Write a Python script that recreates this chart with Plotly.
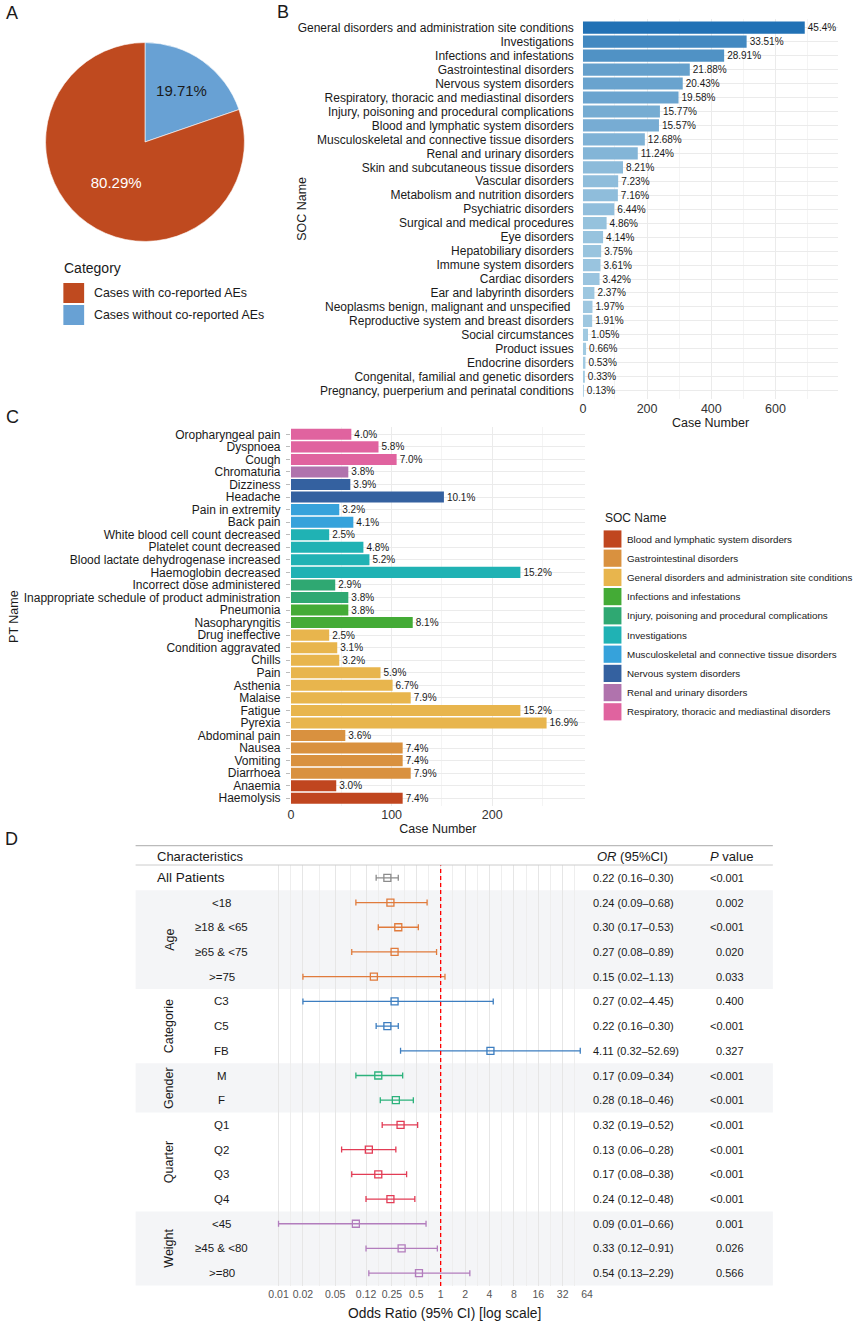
import math
import plotly.graph_objects as go

W, H = 858, 1322
def px(x): return x / W
def py(y): return 1 - y / H

FONT = "Liberation Sans, Arial, sans-serif"

# ---------------- Panel A data ----------------
pie_labels = ["Cases with co-reported AEs", "Cases without co-reported AEs"]
pie_values = [80.29, 19.71]
pie_colors = ["#BF4A1F", "#68A1D4"]
pie_text_colors = ["white", "#1a1a1a"]

# ---------------- Panel B data ----------------
soc_names = [
    "General disorders and administration site conditions", "Investigations",
    "Infections and infestations", "Gastrointestinal disorders", "Nervous system disorders",
    "Respiratory, thoracic and mediastinal disorders", "Injury, poisoning and procedural complications",
    "Blood and lymphatic system disorders", "Musculoskeletal and connective tissue disorders",
    "Renal and urinary disorders", "Skin and subcutaneous tissue disorders", "Vascular disorders",
    "Metabolism and nutrition disorders", "Psychiatric disorders", "Surgical and medical procedures",
    "Eye disorders", "Hepatobiliary disorders", "Immune system disorders", "Cardiac disorders",
    "Ear and labyrinth disorders", "Neoplasms benign, malignant and unspecified ",
    "Reproductive system and breast disorders", "Social circumstances", "Product issues",
    "Endocrine disorders", "Congenital, familial and genetic disorders",
    "Pregnancy, puerperium and perinatal conditions",
]
soc_counts = [691, 510, 440, 333, 311, 298, 240, 237, 193, 171, 125, 110, 109, 98, 74,
              63, 57, 55, 52, 36, 30, 29, 16, 10, 8, 5, 2]
soc_pct = ["45.4%", "33.51%", "28.91%", "21.88%", "20.43%", "19.58%", "15.77%", "15.57%",
           "12.68%", "11.24%", "8.21%", "7.23%", "7.16%", "6.44%", "4.86%", "4.14%", "3.75%",
           "3.61%", "3.42%", "2.37%", "1.97%", "1.91%", "1.05%", "0.66%", "0.53%", "0.33%", "0.13%"]
soc_ticks = [0, 200, 400, 600]

# ---------------- Panel C data ----------------
pt_names = [
    "Oropharyngeal pain", "Dyspnoea", "Cough", "Chromaturia", "Dizziness", "Headache",
    "Pain in extremity", "Back pain", "White blood cell count decreased", "Platelet count decreased",
    "Blood lactate dehydrogenase increased", "Haemoglobin decreased", "Incorrect dose administered",
    "Inappropriate schedule of product administration", "Pneumonia", "Nasopharyngitis",
    "Drug ineffective", "Condition aggravated", "Chills", "Pain", "Asthenia", "Malaise", "Fatigue",
    "Pyrexia", "Abdominal pain", "Nausea", "Vomiting", "Diarrhoea", "Anaemia", "Haemolysis",
]
pt_counts = [60, 87, 105, 57, 59, 152, 48, 62, 38, 72, 78, 228, 44, 57, 57, 121, 38, 46, 48,
             89, 101, 119, 228, 254, 54, 111, 111, 119, 45, 111]
pt_pct = ["4.0%", "5.8%", "7.0%", "3.8%", "3.9%", "10.1%", "3.2%", "4.1%", "2.5%", "4.8%",
          "5.2%", "15.2%", "2.9%", "3.8%", "3.8%", "8.1%", "2.5%", "3.1%", "3.2%", "5.9%",
          "6.7%", "7.9%", "15.2%", "16.9%", "3.6%", "7.4%", "7.4%", "7.9%", "3.0%", "7.4%"]
pt_soc = ["Respiratory, thoracic and mediastinal disorders"] * 3 + \
         ["Renal and urinary disorders"] + ["Nervous system disorders"] * 2 + \
         ["Musculoskeletal and connective tissue disorders"] * 2 + ["Investigations"] * 4 + \
         ["Injury, poisoning and procedural complications"] * 2 + ["Infections and infestations"] * 2 + \
         ["General disorders and administration site conditions"] * 8 + \
         ["Gastrointestinal disorders"] * 4 + ["Blood and lymphatic system disorders"] * 2
legend_soc = [
    "Blood and lymphatic system disorders", "Gastrointestinal disorders",
    "General disorders and administration site conditions", "Infections and infestations",
    "Injury, poisoning and procedural complications", "Investigations",
    "Musculoskeletal and connective tissue disorders", "Nervous system disorders",
    "Renal and urinary disorders", "Respiratory, thoracic and mediastinal disorders",
]
legend_colors = ["#C0461F", "#D9913F", "#E8B54D", "#44AB36", "#2FA872", "#20B2B4",
                 "#36A2DB", "#3461A0", "#B073AD", "#E0639F"]
pt_ticks = [0, 100, 200]

# ---------------- Panel D data ----------------
fp_group = ["All Patients", "Age", "Age", "Age", "Age", "Categorie", "Categorie", "Categorie",
            "Gender", "Gender", "Quarter", "Quarter", "Quarter", "Quarter", "Weight", "Weight", "Weight"]
fp_label = ["All Patients", "<18", "≥18 & <65", "≥65 & <75", ">=75", "C3", "C5", "FB", "M", "F",
            "Q1", "Q2", "Q3", "Q4", "<45", "≥45 & <80", ">=80"]
fp_or = [0.22, 0.24, 0.30, 0.27, 0.15, 0.27, 0.22, 4.11, 0.17, 0.28, 0.32, 0.13, 0.17, 0.24, 0.09, 0.33, 0.54]
fp_lo = [0.16, 0.09, 0.17, 0.08, 0.02, 0.02, 0.16, 0.32, 0.09, 0.18, 0.19, 0.06, 0.08, 0.12, 0.01, 0.12, 0.13]
fp_hi = [0.30, 0.68, 0.53, 0.89, 1.13, 4.45, 0.30, 52.69, 0.34, 0.46, 0.52, 0.28, 0.38, 0.48, 0.66, 0.91, 2.29]
fp_p = ["<0.001", "0.002", "<0.001", "0.020", "0.033", "0.400", "<0.001", "0.327", "<0.001",
        "<0.001", "<0.001", "<0.001", "<0.001", "<0.001", "0.001", "0.026", "0.566"]
group_names = ["All Patients", "Age", "Categorie", "Gender", "Quarter", "Weight"]
group_colors = ["#8C8C8C", "#E07B3C", "#3D7EC0", "#2CB27C", "#E23C55", "#B27DBD"]
shaded_groups = ["Age", "Gender", "Weight"]
fp_ticks = [0.01, 0.02, 0.05, 0.12, 0.25, 0.5, 1, 2, 4, 8, 16, 32, 64]
fp_ticktext = ["0.01", "0.02", "0.05", "0.12", "0.25", "0.5", "1", "2", "4", "8", "16", "32", "64"]

fig = go.Figure()

# ---------- A: pie (smaller slice drawn first, clockwise from 12 o'clock) ----------
fig.add_trace(go.Pie(
    labels=pie_labels[::-1], values=pie_values[::-1], sort=False, direction="clockwise", rotation=0,
    marker=dict(colors=pie_colors[::-1], line=dict(color="white", width=0.6)),
    texttemplate="%{percent:.2%}", textposition="inside", insidetextorientation="horizontal",
    textfont=dict(size=15, color=pie_text_colors[::-1], family=FONT),
    domain=dict(x=[px(43), px(244)], y=[py(243), py(41)]), showlegend=False, hoverinfo="label+percent",
))

# pie legend
fig.add_annotation(x=px(60), y=py(268), xref="paper", yref="paper", text="Category", showarrow=False,
                   xanchor="left", yanchor="middle", font=dict(size=14, color="#1a1a1a"))
for i, (lab, col) in enumerate(zip(pie_labels, pie_colors)):
    yc = 293 + i * 22
    fig.add_shape(type="rect", xref="paper", yref="paper", x0=px(61), x1=px(82),
                  y0=py(yc - 10), y1=py(yc + 10), fillcolor=col, line=dict(width=0))
    fig.add_annotation(x=px(90), y=py(yc), xref="paper", yref="paper", text=lab, showarrow=False,
                       xanchor="left", yanchor="middle", font=dict(size=12.4, color="#1a1a1a"))

# ---------- B: SOC bars ----------
fig.add_trace(go.Bar(
    x=soc_counts, y=soc_names, orientation="h", width=0.87,
    marker=dict(color=soc_counts, colorscale=[[0, "#A3CBE2"], [1, "#2171B5"]],
                cmin=min(soc_counts), cmax=max(soc_counts), line=dict(width=0)),
    text=soc_pct, textposition="outside", constraintext="none", cliponaxis=False,
    textfont=dict(size=10, color="#1a1a1a"), xaxis="x2", yaxis="y2", showlegend=False,
))

# ---------- C: PT bars ----------
for soc, col in zip(legend_soc, legend_colors):
    idx = [i for i, s in enumerate(pt_soc) if s == soc]
    fig.add_trace(go.Bar(
        x=[pt_counts[i] for i in idx], y=[pt_names[i] for i in idx], orientation="h", width=0.88,
        marker=dict(color=col, line=dict(width=0)), name=soc,
        text=[pt_pct[i] for i in idx], textposition="outside", constraintext="none", cliponaxis=False,
        textfont=dict(size=10, color="#1a1a1a"), xaxis="x3", yaxis="y3", showlegend=False,
    ))

# C legend
fig.add_annotation(x=px(606), y=py(518), xref="paper", yref="paper", text="SOC Name", showarrow=False,
                   xanchor="left", yanchor="middle", font=dict(size=12, color="#1a1a1a"))
for i, (lab, col) in enumerate(zip(legend_soc, legend_colors)):
    yc = 539 + i * 19.2
    fig.add_shape(type="rect", xref="paper", yref="paper", x0=px(607), x1=px(625),
                  y0=py(yc - 8.6), y1=py(yc + 8.6), fillcolor=col, line=dict(width=0))
    fig.add_annotation(x=px(629), y=py(yc), xref="paper", yref="paper", text=lab, showarrow=False,
                       xanchor="left", yanchor="middle", font=dict(size=9.8, color="#1a1a1a"))

# ---------- D: forest ----------
rows = list(range(len(fp_label)))
for g, col in zip(group_names, group_colors):
    idx = [i for i, gg in enumerate(fp_group) if gg == g]
    fig.add_trace(go.Scatter(
        x=[fp_or[i] for i in idx], y=[rows[i] for i in idx], mode="markers",
        marker=dict(symbol="square-open", size=7, color=col, line=dict(width=1.3, color=col)),
        error_x=dict(type="data", symmetric=False,
                     array=[fp_hi[i] - fp_or[i] for i in idx],
                     arrayminus=[fp_or[i] - fp_lo[i] for i in idx],
                     color=col, thickness=1.3, width=3),
        xaxis="x4", yaxis="y4", showlegend=False, name=g,
    ))

# shaded group bands
for g in shaded_groups:
    idx = [i for i, gg in enumerate(fp_group) if gg == g]
    fig.add_shape(type="rect", xref="paper", yref="y4", x0=px(134), x1=px(778),
                  y0=min(idx) - 0.5, y1=max(idx) + 0.5, fillcolor="#F4F5F7",
                  line=dict(width=0), layer="below")

# reference line at OR = 1
fig.add_shape(type="line", xref="x4", yref="y4 domain", x0=1, x1=1, y0=0, y1=1,
              line=dict(color="#FF0000", width=1.3, dash="4px,3px"))

# header
fig.add_shape(type="line", xref="paper", yref="paper", x0=px(134), x1=px(778), y0=py(845.7), y1=py(845.7),
              line=dict(color="#BBBBBB", width=1.2))
fig.add_shape(type="line", xref="paper", yref="paper", x0=px(134), x1=px(778), y0=py(865), y1=py(865),
              line=dict(color="#CCCCCC", width=1))
for txt, x in [("Characteristics", 154), ("<i>OR</i> (95%CI)", 598), ("<i>P</i> value", 712)]:
    fig.add_annotation(x=px(x), y=py(856), xref="paper", yref="paper", text=txt, showarrow=False,
                       xanchor="left", yanchor="middle", font=dict(size=13, color="#1a1a1a"))

# row texts
for i in rows:
    if fp_group[i] == fp_label[i]:
        fig.add_annotation(x=px(154), y=i, xref="paper", yref="y4", text=fp_label[i], showarrow=False,
                           xanchor="left", yanchor="middle", font=dict(size=13.5, color="#1a1a1a"))
    else:
        fig.add_annotation(x=px(221), y=i, xref="paper", yref="y4", text=fp_label[i], showarrow=False,
                           xanchor="center", yanchor="middle", font=dict(size=11.5, color="#1a1a1a"))
    fig.add_annotation(x=px(594), y=i, xref="paper", yref="y4",
                       text=f"{fp_or[i]:.2f} ({fp_lo[i]:.2f}–{fp_hi[i]:.2f})", showarrow=False,
                       xanchor="left", yanchor="middle", font=dict(size=11, color="#1a1a1a"))
    fig.add_annotation(x=px(751), y=i, xref="paper", yref="y4", text=fp_p[i], showarrow=False,
                       xanchor="right", yanchor="middle", font=dict(size=11, color="#1a1a1a"))

for g in group_names[1:]:
    idx = [i for i, gg in enumerate(fp_group) if gg == g]
    fig.add_annotation(x=px(168), y=sum(idx) / len(idx), xref="paper", yref="y4", text=g,
                       showarrow=False, textangle=-90, xanchor="center", yanchor="middle",
                       font=dict(size=12.5, color="#1a1a1a"))

fig.add_annotation(x=px(446), y=py(1313), xref="paper", yref="paper",
                   text="Odds Ratio (95% CI) [log scale]", showarrow=False,
                   xanchor="center", yanchor="middle", font=dict(size=13.8, color="#1a1a1a"))

# axis titles drawn as annotations
fig.add_annotation(x=px(302), y=py(209), xref="paper", yref="paper", text="SOC Name", showarrow=False,
                   textangle=-90, xanchor="center", yanchor="middle", font=dict(size=12.5, color="#1a1a1a"))
fig.add_annotation(x=px(11), y=py(616), xref="paper", yref="paper", text="PT Name", showarrow=False,
                   textangle=-90, xanchor="center", yanchor="middle", font=dict(size=12.5, color="#1a1a1a"))

# panel letters
for letter, x, y in [("A", 9, 13), ("B", 283, 12), ("C", 10, 417), ("D", 9, 839)]:
    fig.add_annotation(x=px(x), y=py(y), xref="paper", yref="paper", text=letter, showarrow=False,
                       xanchor="center", yanchor="middle", font=dict(size=18, color="#1a1a1a"))

minor_fp = [fp_ticks[0] / math.sqrt(2)] + [math.sqrt(a * b) for a, b in zip(fp_ticks[:-1], fp_ticks[1:])]

fig.update_layout(
    width=W, height=H, margin=dict(l=0, r=0, t=0, b=0),
    paper_bgcolor="white", plot_bgcolor="rgba(0,0,0,0)", barmode="overlay", showlegend=False,
    font=dict(family=FONT, size=11, color="#1a1a1a"),
    xaxis2=dict(domain=[px(586), px(844)], anchor="y2", range=[0, 795], tickvals=soc_ticks,
                showgrid=True, gridcolor="#EBEBEB", gridwidth=1, zeroline=False, ticks="",
                minor=dict(tickvals=[100, 300, 500, 700], showgrid=True, gridcolor="#F4F4F4"),
                tickfont=dict(size=12.5, color="#333333"),
                title=dict(text="Case Number", font=dict(size=12.5), standoff=2)),
    yaxis2=dict(domain=[py(399.1), py(19.3)], anchor="x2", type="category", categoryorder="array",
                categoryarray=soc_names, range=[26.6, -0.6], showgrid=True, gridcolor="#EBEBEB",
                tickmode="array", tickvals=soc_names, ticktext=soc_names,
                ticks="", tickfont=dict(size=12, color="#1a1a1a"), ticklabelstandoff=8),
    xaxis3=dict(domain=[px(291), px(588)], anchor="y3", range=[0, 292], tickvals=pt_ticks,
                showgrid=True, gridcolor="#EBEBEB", gridwidth=1, zeroline=False, ticks="",
                minor=dict(tickvals=[50, 150, 250], showgrid=True, gridcolor="#F4F4F4"),
                tickfont=dict(size=12.5, color="#333333"),
                title=dict(text="Case Number", font=dict(size=12.5), standoff=2)),
    yaxis3=dict(domain=[py(805.8), py(426.8)], anchor="x3", type="category", categoryorder="array",
                categoryarray=pt_names, range=[29.6, -0.6], showgrid=True, gridcolor="#EBEBEB",
                tickmode="array", tickvals=pt_names, ticktext=pt_names,
                ticks="outside", ticklen=4, tickcolor="#BBBBBB", tickwidth=0.8,
                tickfont=dict(size=12, color="#1a1a1a"), ticklabelstandoff=3),
    xaxis4=dict(domain=[px(266), px(590.3)], anchor="y4", type="log",
                range=[math.log10(0.00705), math.log10(64)], tickvals=fp_ticks, ticktext=fp_ticktext,
                showgrid=True, gridcolor="#E6E6E6", gridwidth=0.8, zeroline=False, ticks="",
                minor=dict(tickvals=minor_fp, showgrid=True, gridcolor="#EEEEEE", gridwidth=0.8),
                tickfont=dict(size=10.5, color="#555555"), showline=False),
    yaxis4=dict(domain=[py(1286), py(865)], anchor="x4", range=[16.52, -0.52], visible=False),
)

fig.write_html("out.html", config={"displayModeBar": False},
               post_script="document.body.style.margin='0px';")
